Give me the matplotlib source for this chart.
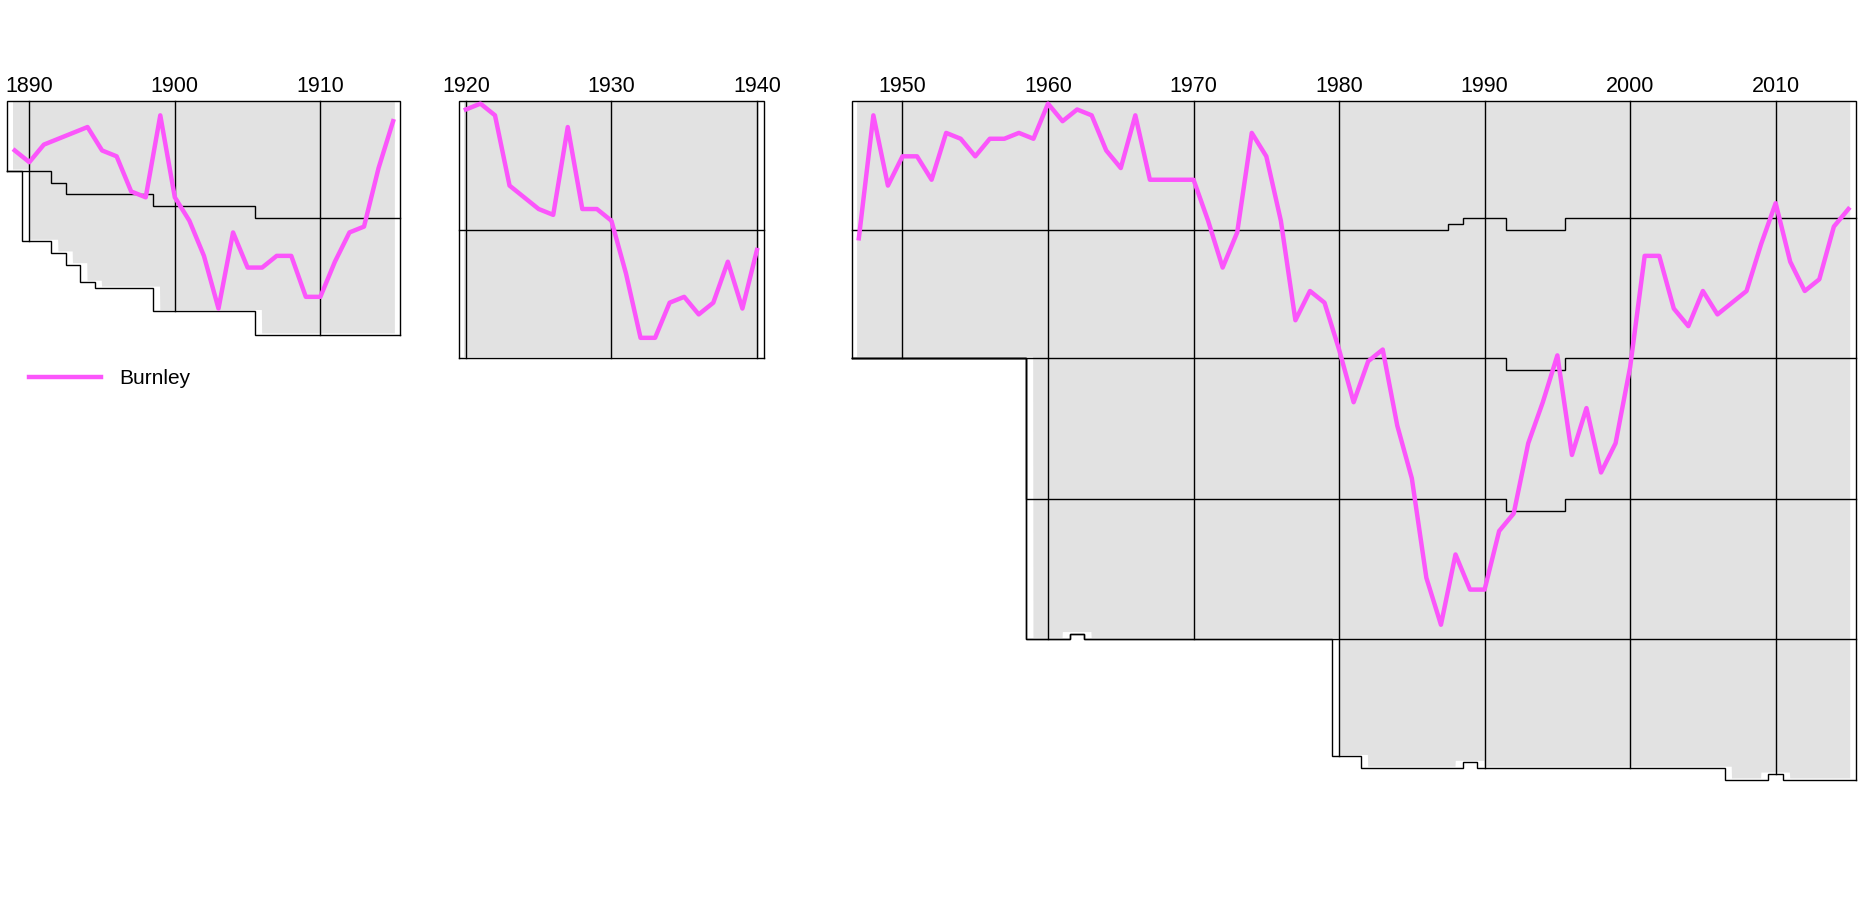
import numpy as np
import matplotlib
matplotlib.use("Agg")
import matplotlib.pyplot as plt

plt.rcParams['font.family'] = ['Liberation Sans', 'DejaVu Sans']

# ---------------- data ----------------
# league eras (season end years)
era1_years = list(range(1889, 1916))
era2_years = list(range(1920, 1941))
era3_years = list(range(1947, 2016))

# division sizes: (first season, number of clubs)
tier1_changes = [(1889, 12), (1892, 14), (1893, 16), (1899, 18), (1906, 20), (1920, 22),
                 (1988, 21), (1989, 20), (1992, 22), (1996, 20)]
tier2_changes = [(1890, 12), (1894, 15), (1895, 16), (1899, 18), (1906, 20), (1920, 22),
                 (1988, 23), (1989, 24)]
tier3_changes = [(1959, 24)]
tier4_changes = [(1959, 24), (1962, 23), (1963, 24), (1992, 22), (1996, 24)]
tier5_changes = [(1980, 20), (1982, 22), (1989, 21), (1990, 22), (2007, 24), (2010, 23), (2011, 24)]

# Burnley overall position (1 = top of the pyramid)
burnley_era1 = [9, 11, 8, 7, 6, 5, 9, 10, 16, 17, 3, 17, 21, 27, 36, 23, 29, 29, 27, 27,
                34, 34, 28, 23, 22, 12, 4]
burnley_era2 = [2, 1, 3, 15, 17, 19, 20, 5, 19, 19, 21, 30, 41, 41, 35, 34, 37, 35, 28, 36, 26]
burnley_era3 = [24, 3, 15, 10, 10, 14, 6, 7, 10, 7, 7, 6, 7, 1, 4, 2, 3, 9, 12, 3,
                14, 14, 14, 14, 21, 29, 23, 6, 10, 21, 38, 33, 35, 43, 52, 45, 43, 56, 65, 82,
                90, 78, 84, 84, 74, 71, 59, 52, 44, 61, 53, 64, 59, 46, 27, 27, 36, 39, 33, 37,
                35, 33, 25, 18, 28, 33, 31, 22, 19]

decade_labels = [1890, 1900, 1910, 1920, 1930, 1940, 1950, 1960, 1970, 1980, 1990, 2000, 2010]
team_name = "Burnley"

GREY = "#e2e2e2"
LINE = "#fb55fb"

# ---------------- helpers ----------------
tiers = [tier1_changes, tier2_changes, tier3_changes, tier4_changes, tier5_changes]


def size_in(changes, year):
    n = 0
    for y0, s in changes:
        if y0 <= year:
            n = s
    return n


def bounds(year):
    cum = [0]
    for ch in tiers:
        s = size_in(ch, year)
        if s > 0:
            cum.append(cum[-1] + s)
    return cum


# ---------------- figure ----------------
W, H = 1864, 901
fig = plt.figure(figsize=(W / 100, H / 100), dpi=100)
ax = fig.add_axes([0, 0, 1, 1])
ax.axis('off')

px_per_year = 14.553
x_1890 = 29.3
y_top = 100.7
px_per_pos = 5.855
ax.set_xlim(1890 - x_1890 / px_per_year, 1890 + (W - x_1890) / px_per_year)
ax.set_ylim(0.5 + (H - y_top) / px_per_pos, 0.5 - y_top / px_per_pos)

line_kw = dict(color='black', lw=1.0, solid_joinstyle='miter', solid_capstyle='projecting', zorder=2)

for years in (era1_years, era2_years, era3_years):
    B = {y: bounds(y) for y in years}
    # grey area (all clubs' trajectories)
    top_pad, bot_pad, ext = 0.75, 0.25, 0.12
    xs_top = [years[0] - ext, years[-1] + ext]
    ys_top = [top_pad, top_pad]
    bx, by = [years[0] - ext], [B[years[0]][-1] + bot_pad]
    for i, y in enumerate(years):
        bx.append(y)
        by.append(B[y][-1] + bot_pad)
        if i + 1 < len(years):
            nxt = years[i + 1]
            m = min(B[y][-1], B[nxt][-1]) + bot_pad
            bx += [y + 0.02, nxt - 0.02]
            by += [m, m]
    bx.append(years[-1] + ext)
    by.append(B[years[-1]][-1] + bot_pad)
    ax.fill(xs_top + bx[::-1], ys_top + by[::-1], color=GREY, lw=0, zorder=1)

    # outline: top edge with side edges
    first, last = years[0], years[-1]
    ax.plot([first - 0.5, first - 0.5, last + 0.5, last + 0.5],
            [B[first][-1] + 0.5, 0.5, 0.5, B[last][-1] + 0.5], **line_kw)
    # division boundaries as continuous step paths
    nlev = max(len(B[y]) for y in years)
    for k in range(1, nlev):
        xs, ys = [], []
        for y in years:
            b = B[y][min(k, len(B[y]) - 1)] + 0.5
            xs += [y - 0.5, y + 0.5]
            ys += [b, b]
        ax.plot(xs, ys, **line_kw)
    # decade lines
    for y in years:
        if y % 10 == 0:
            ax.plot([y, y], [0.5, B[y][-1] + 0.5], color='black', lw=1.0, zorder=2)

# Burnley
for yrs, pos in ((era1_years, burnley_era1), (era2_years, burnley_era2), (era3_years, burnley_era3)):
    ax.plot(yrs, pos, color=LINE, lw=3.2, zorder=3, solid_joinstyle='round',
            label=team_name if yrs is era1_years else None)

# decade labels
label_y = 0.5 + (91.7 - y_top) / px_per_pos
for d in decade_labels:
    ax.text(d, label_y, str(d), ha='center', va='baseline', fontsize=15.5, color='black')

leg = ax.legend(loc='center left', bbox_to_anchor=(x_1890 / W, 1 - 379 / H),
                bbox_transform=fig.transFigure, frameon=False, fontsize=15,
                handlelength=3.46, handletextpad=0.88, borderpad=0, borderaxespad=0)

fig.savefig("out.png", dpi=100, facecolor='white')
